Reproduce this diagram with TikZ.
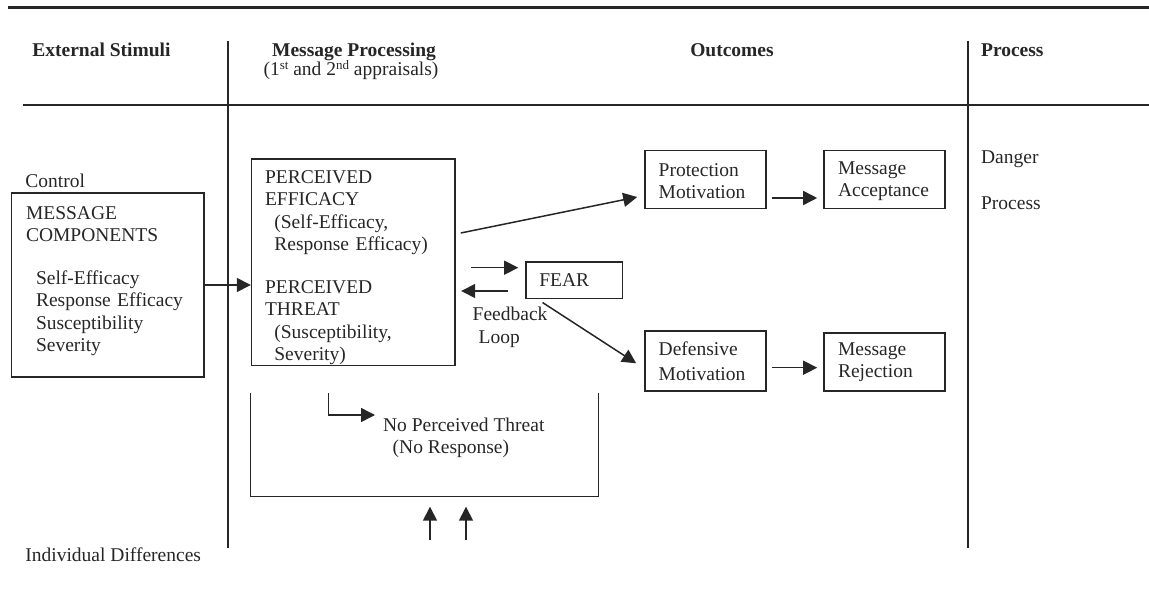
\documentclass[tikz,border=0pt]{standalone}
\usepackage{fontspec}
\setmainfont{Liberation Serif}
\usetikzlibrary{arrows.meta, calc}
\newcommand{\ordsup}[1]{\raisebox{0.33em}{\fontsize{6.5}{7}\selectfont #1}}

\begin{document}
\begin{tikzpicture}[
  x=0.5pt, y=-0.5pt,
  every node/.style={font=\fontsize{9.75}{11.25}\selectfont, text=black!85},
  rule/.style={line width=1.2pt, draw=black!85},
  box/.style={draw=black!85, line width=0.8pt, align=left, inner ysep=0pt},
  lbl/.style={anchor=base west, inner sep=0pt},
  hdr/.style={anchor=base west, inner sep=0pt, font=\fontsize{9.75}{11.25}\selectfont\bfseries},
  arr/.style={-{Triangle[length=7pt, width=7pt]}, line width=0.75pt, draw=black!85},
]
\useasboundingbox (0,0) rectangle (1149,588);

%% ---- column rules ----
\draw[rule] (8,7.5) -- (1149,7.5);
\draw[rule] (22.7,105.3) -- (1149,105.3);
\draw[rule] (227.7,40.7) -- (227.7,548);
\draw[rule] (968,40.7) -- (968,548);

%% ---- headers ----
\node[hdr] (hExt) at (32,56.5) {External Stimuli};
\node[anchor=base, inner sep=0pt, font=\fontsize{9.75}{11.25}\selectfont\bfseries] (hMsg) at (354,56.5) {Message Processing};
\node[anchor=base, inner sep=0pt] (hMsgSub) at (351,75.5) {(1\ordsup{st} and 2\ordsup{nd} appraisals)};
\node[anchor=base, inner sep=0pt, font=\fontsize{9.75}{11.25}\selectfont\bfseries] (hOut) at (732,56.5) {Outcomes};
\node[hdr] (hProc) at (980.7,56.5) {Process};

%% ---- external stimuli ----
\node[lbl] (control) at (25,188) {Control};
\node[box, minimum width=96.2pt, minimum height=91.7pt, inner xsep=7.2pt, text width=81.8pt] (mc) at (107.8,285)
  {MESSAGE\\COMPONENTS\\[10pt]
   \hspace*{5pt}Self-Efficacy\\
   \hspace*{5pt}Response Efficacy\\
   \hspace*{5pt}Susceptibility\\
   \hspace*{5pt}Severity\rule[-6pt]{0pt}{6pt}};
\node[lbl] (indiv) at (25,561) {Individual Differences};

%% ---- message processing ----
\node[box, minimum width=101.7pt, minimum height=103.3pt, inner xsep=6.7pt, text width=88.3pt] (pe) at (353.3,262.3)
  {\rule{0pt}{12pt}PERCEIVED\\EFFICACY\\
   \hspace*{4.7pt}(Self-Efficacy,\\
   \hspace*{4.7pt}Response Efficacy)\\[10pt]
   PERCEIVED\\THREAT\\
   \hspace*{4.7pt}(Susceptibility,\\
   \hspace*{4.7pt}Severity)};
\draw[arr] (mc.east) -- (mc.east -| pe.west);

\node[box, minimum width=48.3pt, minimum height=18.3pt, inner xsep=6.8pt, text width=34.7pt] (fear) at (574,280) {FEAR};
\coordinate (fbA) at ($(fear.west)+(-53.7,-12.3)$);
\coordinate (fbB) at ($(fear.west)+(-6.7,-12.3)$);
\coordinate (fbC) at ($(fear.west)+(-16.7,11)$);
\coordinate (fbD) at ($(fear.west)+(-63.7,11)$);
\draw[arr] (fbA) -- (fbB);
\draw[arr] (fbC) -- (fbD);
\node[anchor=north west, inner sep=0pt, align=left] (feedback) at (472.3,306.7) {Feedback\\\hspace*{3pt}Loop};

%% ---- no perceived threat ----
\draw[line width=0.75pt, draw=black!85] (250.7,393.3) -- (250.7,496.7) -- (598.3,496.7) -- (598.3,393.3);
\node[anchor=north west, inner sep=0pt, align=left] (npt) at (382.7,417.4) {No Perceived Threat\\\hspace*{4.8pt}(No Response)};
\coordinate (nptIn) at (328.3,393.3);
\coordinate (nptOut) at (375,415);
\draw[arr] (nptIn) |- (nptOut);
\foreach \x [count=\i] in {430,466} {
  \coordinate (idA\i) at (\x,540);
  \coordinate (idB\i) at (\x,506.7);
  \draw[arr] (idA\i) -- (idB\i);
}

%% ---- outcomes ----
\node[box, minimum width=60.5pt, minimum height=29pt, inner xsep=6.85pt, text width=46.8pt] (pm) at (705.5,179.7) {\rule{0pt}{8pt}Protection\\Motivation};
\node[box, minimum width=60.5pt, minimum height=29pt, inner xsep=7pt, text width=46.5pt] (ma) at (884.5,179.7) {\rule{0pt}{8pt}Message\\Acceptance};
\node[box, minimum width=60.5pt, minimum height=30pt, inner xsep=6.85pt, text width=46.8pt] (dm) at (705.5,361) {Defensive\\[1.5pt]Motivation};
\node[box, minimum width=60.5pt, minimum height=29pt, inner xsep=7pt, text width=46.5pt] (mr) at (884.5,362) {Message\\Rejection};

\draw[arr] ($(pe.east)+(5,-29.3)$) -- ($(pm.west)+(-7,17.3)$);
\draw[arr] ($(fear.south west)+(17.6,3.4)$) -- ($(dm.west)+(-8,2.3)$);
\coordinate (pmOut) at ($(pm.east)+(5,18.3)$);
\draw[arr, shorten >=3pt] (pmOut) -- (pmOut -| ma.west);
\coordinate (dmOut) at ($(dm.east)+(5,6.7)$);
\draw[arr, shorten >=3pt] (dmOut) -- (dmOut -| mr.west);

%% ---- process ----
\node[lbl] (danger) at (980.7,163.5) {Danger};
\node[lbl] (process) at (980.7,210) {Process};

\end{tikzpicture}
\end{document}
